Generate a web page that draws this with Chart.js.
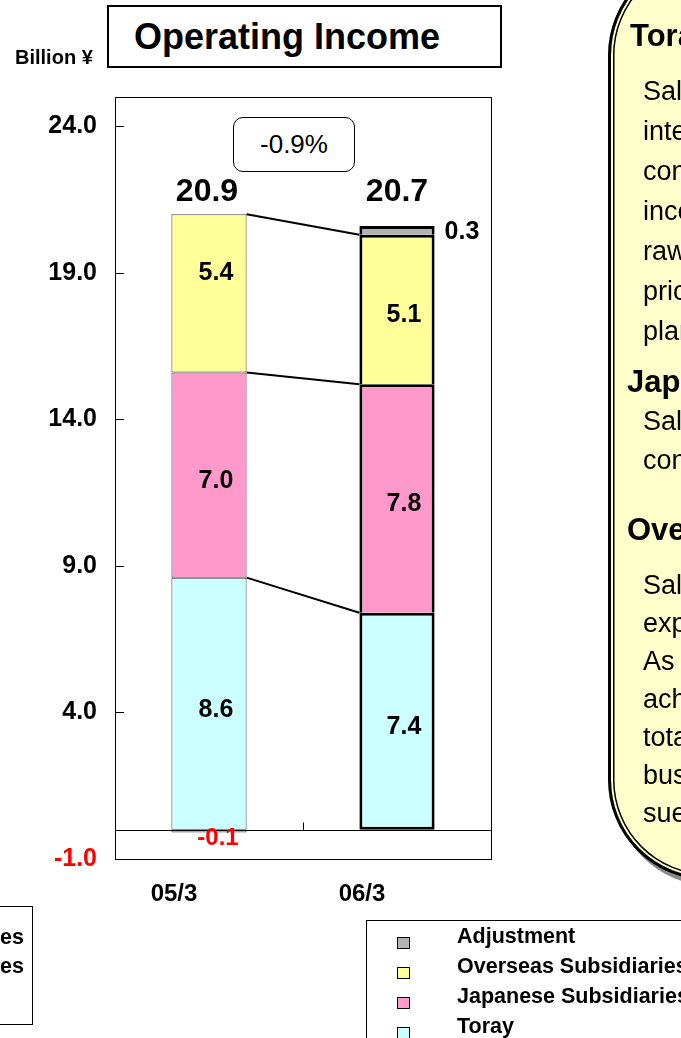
<!DOCTYPE html>
<html><head><meta charset="utf-8">
<script src="https://cdn.jsdelivr.net/npm/chart.js@4"></script>
<style>
html,body{margin:0;padding:0;background:#fff;width:681px;height:1038px;overflow:hidden;position:relative;font-family:"Liberation Sans",Arial,sans-serif;color:#000;}
#wrap{position:absolute;left:0;top:0;width:681px;height:1038px;}
.abs{position:absolute;white-space:nowrap;}
.box{position:absolute;box-sizing:border-box;border:1.5px solid #000;background:#fff;}
.ln{position:absolute;white-space:nowrap;font-size:27px;line-height:32px;transform:translateY(-50%);}
.ln.hd{font-weight:bold;font-size:31px;}
.lg{position:absolute;white-space:nowrap;font-weight:bold;font-size:21.5px;line-height:26px;transform:translateY(-50%);}
.sq{position:absolute;width:13px;height:12px;box-sizing:border-box;border:1px solid #000;}
</style></head><body>
<div id="wrap"><canvas id="c" width="681" height="1038"></canvas></div>

<div class="abs" style="left:15px;top:45px;font-weight:bold;font-size:20px;line-height:24px;">Billion ¥</div>
<div class="box" style="left:107px;top:5px;width:395px;height:63px;border-width:2px;">
  <div class="abs" style="left:25px;top:0;line-height:60px;font-weight:bold;font-size:36px;">Operating Income</div>
</div>
<div class="box" style="left:233px;top:117px;width:122px;height:55px;border-radius:10px;text-align:center;line-height:52px;font-size:26px;" id="chg"></div>

<div id="callout" style="position:absolute;left:608px;top:-45px;width:220px;height:925px;box-sizing:border-box;border:3px solid #000;border-radius:100px 0 0 100px;background:#FFFFCC;box-shadow:5px 6px 0 #8a8a8a, inset 0 0 0 2px #FFFFCC, inset 0 0 0 3.5px #000;"></div>
<div id="ctext"></div>

<div class="box" style="left:-300px;top:906px;width:333px;height:119px;background:transparent;"></div>
<div class="lg" style="left:-300px;width:324px;text-align:right;top:937px;">Overseas Subsidiaries</div>
<div class="lg" style="left:-300px;width:324px;text-align:right;top:966px;">Japanese Subsidiaries</div>

<div class="box" style="left:366px;top:920px;width:400px;height:200px;background:transparent;"></div>
<div id="legend"></div>

<script>
// ---- data ----
const categories = ['05/3', '06/3'];
const toray = [8.6, 7.4];
const japaneseSubs = [7.0, 7.8];
const overseasSubs = [5.4, 5.1];
const adjustment = [-0.1, 0.3];
const totalLabels = ['20.9', '20.7'];
const yTickValues = [-1, 4, 9, 14, 19, 24];
const changeLabel = '-0.9%';
const seriesNames = ['Toray', 'Japanese Subsidiaries', 'Overseas Subsidiaries', 'Adjustment'];
const seriesColors = ['#CCFFFF', '#FF99CC', '#FFFF99', '#B2B2B2'];

document.getElementById('chg').textContent = changeLabel;

// callout text
const calloutLines = [
  ['Toray', 630, 36, true],
  ['Sales of', 643, 91],
  ['intermediate', 643, 131],
  ['consumer goods', 643, 171],
  ['income fell as', 643, 211],
  ['raw material and fuel', 643, 251],
  ['prices rose at', 643, 291],
  ['plants.', 643, 331],
  ['Japanese Subsidiaries', 627, 382, true],
  ['Sales of', 643, 421],
  ['construction firms', 643, 460],
  ['Overseas Subsidiaries', 627, 530, true],
  ['Sales increased with', 643, 585],
  ['expansion in', 643, 623],
  ['As a result,', 643, 661],
  ['achieved record', 643, 699],
  ['total for the', 643, 737],
  ['business of', 643, 775],
  ['suede textiles.', 643, 813]
];
const ct = document.getElementById('ctext');
calloutLines.forEach(([t, x, y, b]) => {
  const d = document.createElement('div');
  d.className = 'ln' + (b ? ' hd' : '');
  d.style.left = x + 'px'; d.style.top = y + 'px';
  d.textContent = t;
  ct.appendChild(d);
});

// legend (top to bottom: Adjustment, Overseas, Japanese, Toray)
const lg = document.getElementById('legend');
[3, 2, 1, 0].forEach((si, i) => {
  const y = 936 + i * 30;
  const s = document.createElement('div');
  s.className = 'sq'; s.style.left = '397px'; s.style.top = (y + 1) + 'px';
  s.style.background = seriesColors[si];
  lg.appendChild(s);
  const t = document.createElement('div');
  t.className = 'lg'; t.style.left = '457px'; t.style.top = y + 'px';
  t.textContent = seriesNames[si];
  lg.appendChild(t);
});

Chart.defaults.font.family = '"Liberation Sans", Arial, sans-serif';
Chart.defaults.color = '#000';

const seriesData = [toray, japaneseSubs, overseasSubs, adjustment];

const overlay = {
  id: 'overlay',
  beforeDatasetsDraw(chart) {
    const {ctx, chartArea: a} = chart;
    ctx.save();
    ctx.fillStyle = '#fff';
    ctx.fillRect(a.left, a.top, a.right - a.left, a.bottom - a.top);
    ctx.restore();
  },
  afterDatasetsDraw(chart) {
    const {ctx, chartArea: a, scales: {x, y}} = chart;
    ctx.save();
    ctx.strokeStyle = '#000';
    ctx.lineWidth = 1;
    // frame
    ctx.strokeRect(Math.round(a.left) + 0.5, Math.round(a.top) + 0.5, Math.round(a.right - a.left), Math.round(a.bottom - a.top));
    // inner y ticks
    yTickValues.forEach(v => {
      if (v === y.min) return;
      const py = Math.round(y.getPixelForValue(v)) + 0.5;
      ctx.beginPath(); ctx.moveTo(a.left, py); ctx.lineTo(a.left + 9, py); ctx.stroke();
    });
    // zero line
    const y0 = Math.round(y.getPixelForValue(0)) + 0.5;
    ctx.beginPath(); ctx.moveTo(a.left, y0); ctx.lineTo(a.right, y0); ctx.stroke();
    // category divider tick
    const xm = Math.round((x.getPixelForValue(0) + x.getPixelForValue(1)) / 2) + 0.5;
    ctx.beginPath(); ctx.moveTo(xm, y0 - 8); ctx.lineTo(xm, y0); ctx.stroke();

    const bars = [0, 1, 2, 3].map(di => chart.getDatasetMeta(di).data);
    const b0 = bars[0][0], b1 = bars[0][1];
    // connector lines
    ctx.lineWidth = 2;
    let c0 = 0, c1 = 0;
    for (let k = 0; k < 3; k++) {
      c0 += seriesData[k][0]; c1 += seriesData[k][1];
      ctx.beginPath();
      ctx.moveTo(b0.x + b0.width / 2, y.getPixelForValue(c0));
      ctx.lineTo(b1.x - b1.width / 2, y.getPixelForValue(c1));
      ctx.stroke();
    }
    // segment labels
    ctx.textAlign = 'center';
    ctx.textBaseline = 'middle';
    ctx.fillStyle = '#000';
    ctx.font = 'bold 25px "Liberation Sans", Arial, sans-serif';
    for (let k = 0; k < 3; k++) {
      for (let i = 0; i < 2; i++) {
        const el = bars[k][i];
        const dy = (k === 2 && i === 0) ? -20 : 6;
        ctx.fillText(seriesData[k][i].toFixed(1), el.x + 7, (el.y + el.base) / 2 + dy);
      }
    }
    // adjustment labels
    const a0 = bars[3][0], a1 = bars[3][1];
    ctx.fillStyle = '#FF0000';
    ctx.font = 'bold 24px "Liberation Sans", Arial, sans-serif';
    ctx.fillText(adjustment[0].toFixed(1), a0.x + 9, a0.base + 9);
    ctx.fillStyle = '#000';
    ctx.textAlign = 'left';
    ctx.font = 'bold 25px "Liberation Sans", Arial, sans-serif';
    ctx.fillText(adjustment[1].toFixed(1), a1.x + a1.width / 2 + 10, (a1.y + a1.base) / 2 + 2);
    // totals
    ctx.textAlign = 'center';
    ctx.font = 'bold 32px "Liberation Sans", Arial, sans-serif';
    const tops = [0, 1].map(i => seriesData.slice(0, 3).reduce((s, d) => s + d[i], 0));
    const ty = y.getPixelForValue(Math.max(...tops)) - 22;
    ctx.fillText(totalLabels[0], b0.x - 2, ty);
    ctx.fillText(totalLabels[1], b1.x, ty);
    ctx.restore();
  }
};

new Chart(document.getElementById('c'), {
  type: 'bar',
  data: {
    labels: categories,
    datasets: seriesData.map((d, k) => ({
      label: seriesNames[k],
      data: d,
      backgroundColor: seriesColors[k],
      borderColor: ['#444444', '#000000'],
      borderSkipped: false,
      borderWidth: ctx => ctx.dataIndex === 0 ? 1 : {top: 3, left: 3, right: 3, bottom: k === 0 ? 3 : 0},
      barPercentage: 0.4,
      categoryPercentage: 1.0
    }))
  },
  options: {
    responsive: false,
    devicePixelRatio: 1,
    animation: false,
    events: [],
    layout: {padding: {top: 97, right: 190, left: 0, bottom: 119}},
    plugins: {legend: {display: false}, tooltip: {enabled: false}},
    scales: {
      x: {
        stacked: true,
        grid: {display: false, drawTicks: false},
        border: {display: false},
        ticks: {font: {size: 24, weight: 'bold'}, padding: 21, labelOffset: -35, color: '#000'},
        afterFit: s => { s.height = 60; }
      },
      y: {
        stacked: true,
        min: -1, max: 25,
        grid: {display: false, drawTicks: false},
        border: {display: false},
        afterBuildTicks: s => { s.ticks = yTickValues.map(v => ({value: v})); },
        afterFit: s => { s.width = 115; },
        ticks: {
          font: {size: 25, weight: 'bold'}, padding: 18,
          color: c => c.tick && c.tick.value < 0 ? '#FF0000' : '#000',
          callback: v => Number(v).toFixed(1)
        }
      }
    }
  },
  plugins: [overlay]
});
</script>
</body></html>
